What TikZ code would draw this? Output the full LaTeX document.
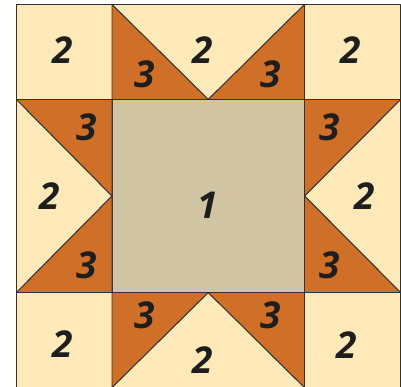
\documentclass[tikz,border=0pt]{standalone}
\usepackage{fontspec}
\setmainfont{Open Sans}
\usepackage{tikz}
\usetikzlibrary{positioning}
\definecolor{quiltcream}{RGB}{255,233,185}
\definecolor{quiltrust}{RGB}{208,112,40}
\definecolor{quilttan}{RGB}{208,196,163}
\definecolor{seamgray}{RGB}{50,50,50}

\begin{document}
\begin{tikzpicture}[x=1pt, y=-1pt,
  cream/.style={fill=quiltcream, draw=seamgray, line width=0.9pt, line join=round},
  rust/.style={fill=quiltrust, draw=seamgray, line width=0.9pt, line join=round},
  tan/.style={fill=quilttan, draw=seamgray, line width=0.9pt},
  num/.style={font=\fontsize{37}{37}\selectfont\bfseries\itshape, text=seamgray!60!black, inner sep=0pt}
]
\useasboundingbox (0,0) rectangle (401,386);

% Corner squares
\draw[cream] (16.5,4.5)   rectangle (112,99.5);
\draw[cream] (304.5,4.5)  rectangle (400.5,99.5);
\draw[cream] (16.5,292.5) rectangle (112,387.5);
\draw[cream] (304.5,292.5) rectangle (400.5,387.5);

% Centre square
\draw[tan] (112,99.5) rectangle (304.5,292.5);

% Flying geese: top
\draw[cream] (112,4.5) -- (304.5,4.5) -- (208.25,99.5) -- cycle;
\draw[rust]  (112,4.5) -- (208.25,99.5) -- (112,99.5) -- cycle;
\draw[rust]  (304.5,4.5) -- (304.5,99.5) -- (208.25,99.5) -- cycle;

% Flying geese: bottom
\draw[cream] (112,387.5) -- (304.5,387.5) -- (208.25,292.5) -- cycle;
\draw[rust]  (112,387.5) -- (208.25,292.5) -- (112,292.5) -- cycle;
\draw[rust]  (304.5,387.5) -- (304.5,292.5) -- (208.25,292.5) -- cycle;

% Flying geese: left
\draw[cream] (16.5,99.5) -- (112,196) -- (16.5,292.5) -- cycle;
\draw[rust]  (16.5,99.5) -- (112,99.5) -- (112,196) -- cycle;
\draw[rust]  (16.5,292.5) -- (112,292.5) -- (112,196) -- cycle;

% Flying geese: right
\draw[cream] (400.5,99.5) -- (304.5,196) -- (400.5,292.5) -- cycle;
\draw[rust]  (400.5,99.5) -- (304.5,99.5) -- (304.5,196) -- cycle;
\draw[rust]  (400.5,292.5) -- (304.5,292.5) -- (304.5,196) -- cycle;

% Piece numbers
\node[num] (centre) at (208,205) {1};
\node[num] (tlcorner) at (63,50)   {2};
\node[num] (trcorner) at (351,50)  {2};
\node[num] (blcorner) at (63,344)  {2};
\node[num] (brcorner) at (347,345) {2};
\node[num] (topgoose) at (203,50)  {2};
\node[num] (botgoose) at (203,360) {2};
\node[num] (lftgoose) at (50,196)  {2};
\node[num] (rgtgoose) at (365,196) {2};
\node[num] (topwingl) at (145,74)  {3};
\node[num] (topwingr) at (271,74)  {3};
\node[num] (botwingl) at (145,315) {3};
\node[num] (botwingr) at (271,315) {3};
\node[num] (lftwingt) at (87,127)  {3};
\node[num] (lftwingb) at (87,265)  {3};
\node[num] (rgtwingt) at (330,127) {3};
\node[num] (rgtwingb) at (330,265) {3};
\end{tikzpicture}
\end{document}
